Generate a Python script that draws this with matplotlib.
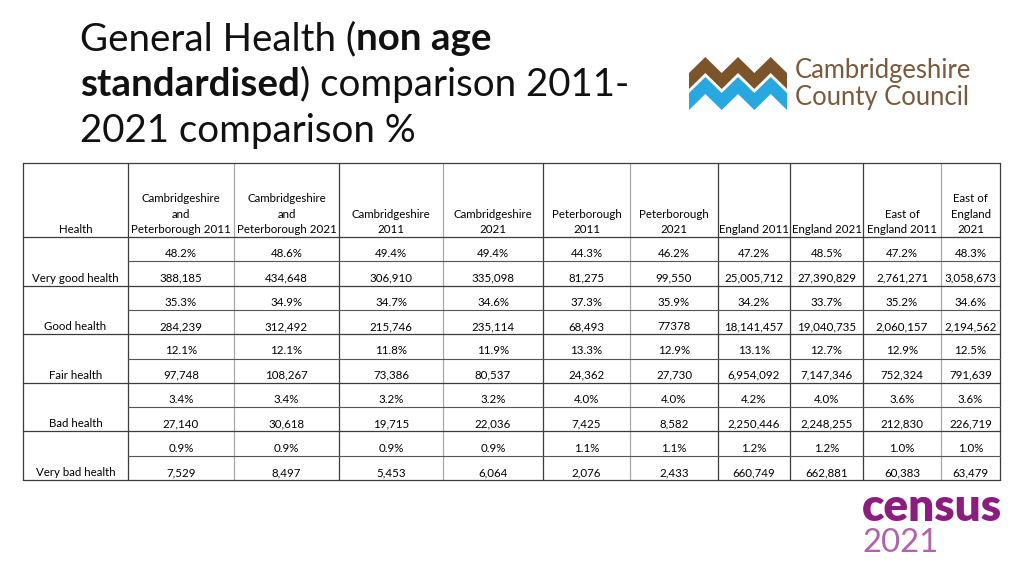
import numpy as np
import matplotlib
matplotlib.use("Agg")
import matplotlib.pyplot as plt
from matplotlib.patches import Polygon

health = ["Very good health", "Good health", "Fair health", "Bad health", "Very bad health"]

col_labels = [
    ["Cambridgeshire", "and", "Peterborough 2011"],
    ["Cambridgeshire", "and", "Peterborough 2021"],
    ["Cambridgeshire", "2011"],
    ["Cambridgeshire", "2021"],
    ["Peterborough", "2011"],
    ["Peterborough", "2021"],
    ["England 2011"],
    ["England 2021"],
    ["East of", "England 2011"],
    ["East of", "England", "2021"],
]

pct_very_good = [48.2, 48.6, 49.4, 49.4, 44.3, 46.2, 47.2, 48.5, 47.2, 48.3]
pct_good = [35.3, 34.9, 34.7, 34.6, 37.3, 35.9, 34.2, 33.7, 35.2, 34.6]
pct_fair = [12.1, 12.1, 11.8, 11.9, 13.3, 12.9, 13.1, 12.7, 12.9, 12.5]
pct_bad = [3.4, 3.4, 3.2, 3.2, 4.0, 4.0, 4.2, 4.0, 3.6, 3.6]
pct_very_bad = [0.9, 0.9, 0.9, 0.9, 1.1, 1.1, 1.2, 1.2, 1.0, 1.0]

# counts kept as shown (one cell has no thousands separator)
n_very_good = ["388,185", "434,648", "306,910", "335,098", "81,275", "99,550",
               "25,005,712", "27,390,829", "2,761,271", "3,058,673"]
n_good = ["284,239", "312,492", "215,746", "235,114", "68,493", "77378",
          "18,141,457", "19,040,735", "2,060,157", "2,194,562"]
n_fair = ["97,748", "108,267", "73,386", "80,537", "24,362", "27,730",
          "6,954,092", "7,147,346", "752,324", "791,639"]
n_bad = ["27,140", "30,618", "19,715", "22,036", "7,425", "8,582",
         "2,250,446", "2,248,255", "212,830", "226,719"]
n_very_bad = ["7,529", "8,497", "5,453", "6,064", "2,076", "2,433",
              "660,749", "662,881", "60,383", "63,479"]

pct_rows = [pct_very_good, pct_good, pct_fair, pct_bad, pct_very_bad]
count_rows = [n_very_good, n_good, n_fair, n_bad, n_very_bad]

title_lines = [
    [("General Health (", "normal"), ("non age", "bold")],
    [("standardised", "bold"), (") comparison 2011-", "normal")],
    [("2021 comparison %", "normal")],
]

# ---- layout (pixels) ----
W, H = 1024, 576
FONT = "Lato"
col_edges = [23, 128, 234, 339, 443, 543, 630, 718, 790, 863, 941, 1000]
light_edges = {2, 4, 6, 10}
table_top = 163
header_bottom = 237
group_h = 48.6
dark = "#3c3c3c"
light = "#a8a8a8"
table_fs = 8.3

fig = plt.figure(figsize=(W / 100, H / 100), dpi=100)
ax = fig.add_axes([0, 0, 1, 1])
ax.set_xlim(0, W)
ax.set_ylim(H, 0)
ax.axis("off")
renderer = fig.canvas.get_renderer()


def text_width(s, size, weight):
    t = ax.text(0, 0, s, fontsize=size, fontweight=weight, family=FONT)
    w = t.get_window_extent(renderer).width
    t.remove()
    return w


def fit_size(s, target, weight="normal"):
    return 20 * target / text_width(s, 20, weight)


def draw_runs(x, y, runs, size, color="black"):
    for s, weight in runs:
        t = ax.text(x, y, s, fontsize=size, fontweight=weight, family=FONT,
                    color=color, va="baseline", ha="left")
        x += t.get_window_extent(renderer).width


# title
title_fs = 20 * 412 / sum(text_width(s, 20, w) for s, w in title_lines[0])
for runs, y in zip(title_lines, [50, 96, 142]):
    draw_runs(80, y, runs, title_fs, color="#111111")

# council logo: zigzag bands
zx = np.linspace(689, 787, 7)
zoff = np.array([16, 0, 16, 0, 16, 0, 16])
for top, bottom, color in [(57, 73, "#7b5429"), (77, 94, "#27a8e0")]:
    pts = list(zip(zx, top + zoff)) + list(zip(zx[::-1], (bottom + zoff)[::-1]))
    ax.add_patch(Polygon(pts, closed=True, facecolor=color, edgecolor="none"))
council_fs = fit_size("Cambridgeshire", 177)
ax.text(795, 78, "Cambridgeshire", fontsize=council_fs, family=FONT,
        color="#7b5a3a", va="baseline")
ax.text(795, 105, "County Council", fontsize=council_fs, family=FONT,
        color="#7b5a3a", va="baseline")

# census logo
census_fs = fit_size("census", 141, "heavy")
ax.text(862, 521, "census", fontsize=census_fs, fontweight="heavy", family=FONT,
        color="#8c1d7f", va="baseline")
ax.text(863, 552, "2021", fontsize=fit_size("2021", 76), family=FONT,
        color="#b463aa", va="baseline")

# ---- table ----
n_groups = len(health)
table_bottom = header_bottom + n_groups * group_h
centers = [(a + b) / 2 for a, b in zip(col_edges[:-1], col_edges[1:])]

# vertical lines
for i, x in enumerate(col_edges):
    ax.plot([x, x], [table_top, table_bottom], color=light if i in light_edges else dark,
            lw=0.9, solid_capstyle="butt")
# horizontal lines
ax.plot([col_edges[0], col_edges[-1]], [table_top, table_top], color=dark, lw=0.9)
for g in range(n_groups + 1):
    y = header_bottom + g * group_h
    ax.plot([col_edges[0], col_edges[-1]], [y, y], color=dark, lw=0.9)
for g in range(n_groups):
    y = header_bottom + g * group_h + group_h / 2
    ax.plot([col_edges[1], col_edges[-1]], [y, y], color="#555555", lw=0.8)

# header
ax.text(centers[0], header_bottom - 4, "Health", fontsize=table_fs, family=FONT,
        ha="center", va="baseline")
for c, lines in enumerate(col_labels):
    for k, line in enumerate(reversed(lines)):
        ax.text(centers[c + 1], header_bottom - 4 - k * 15.5, line, fontsize=table_fs,
                family=FONT, ha="center", va="baseline")

# body
for g, label in enumerate(health):
    y0 = header_bottom + g * group_h
    ax.text(centers[0], y0 + group_h - 4, label, fontsize=table_fs, family=FONT,
            ha="center", va="baseline")
    for c in range(len(col_labels)):
        ax.text(centers[c + 1], y0 + group_h / 2 - 4, f"{pct_rows[g][c]:.1f}%",
                fontsize=table_fs, family=FONT, ha="center", va="baseline")
        ax.text(centers[c + 1], y0 + group_h - 4, count_rows[g][c],
                fontsize=table_fs, family=FONT, ha="center", va="baseline")

fig.savefig("out.png", dpi=100)
